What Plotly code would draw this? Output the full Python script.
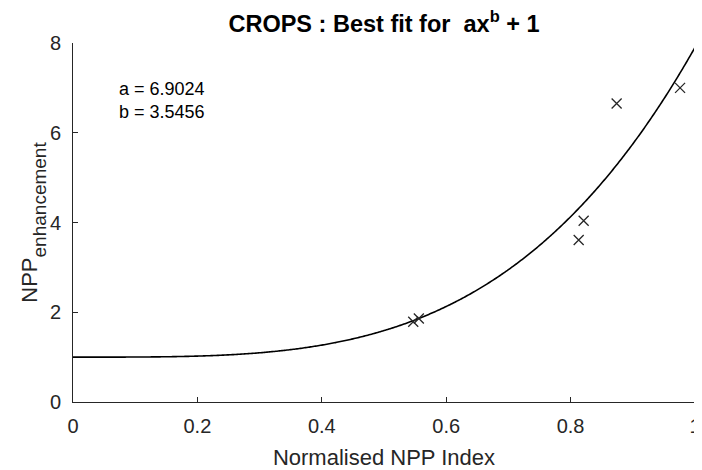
import numpy as np
import plotly.graph_objects as go

# Fit parameters (shown on chart)
a_fit = 6.9024
b_fit = 3.5456

x_pts = [0.547, 0.556, 0.813, 0.821, 0.874, 0.976]
y_pts = [1.79, 1.86, 3.61, 4.04, 6.65, 7.00]

# Tick labels
x_ticks = [0, 0.2, 0.4, 0.6, 0.8, 1]
y_ticks = [0, 2, 4, 6, 8]

# Fitted curve y = a x^b + 1 (drawn from the fit parameters above)
x_fit = np.linspace(0, 1, 501)
y_fit = a_fit * x_fit ** b_fit + 1

AX = "#262626"
FONT = "Liberation Sans, Arial, Helvetica, sans-serif"

# page body has an 8px margin, so the figure is sized to the visible area
W, H = 694, 462

fig = go.Figure()
fig.add_trace(go.Scatter(x=x_fit, y=y_fit, mode="lines",
                         line=dict(color="black", width=1.6, simplify=False),
                         showlegend=False, hoverinfo="skip"))
fig.add_trace(go.Scatter(x=x_pts, y=y_pts, mode="markers",
                         marker=dict(symbol="x-thin-open", size=10, color="#262626",
                                     line=dict(color="#262626", width=1.3)),
                         showlegend=False))

fig.add_annotation(x=0.0705, y=6.97, xref="x", yref="y",
                   text="a = 6.9024", showarrow=False, xanchor="left",
                   font=dict(family=FONT, size=18, color="black"))
fig.add_annotation(x=0.0705, y=6.47, xref="x", yref="y",
                   text="b = 3.5456", showarrow=False, xanchor="left",
                   font=dict(family=FONT, size=18, color="black"))

fig.update_layout(
    width=W, height=H,
    margin=dict(l=65, r=7, t=35, b=68, autoexpand=False),
    paper_bgcolor="white", plot_bgcolor="white",
    font=dict(family=FONT, color=AX),
    title=dict(text="<b>CROPS : Best fit for  ax<sup>b</sup> + 1</b>",
               x=0.5, xref="paper", xanchor="center",
               y=1 - 16 / H, yref="container", yanchor="middle",
               font=dict(family=FONT, size=23.5, color="black")),
)
fig.update_xaxes(range=[0, 1], tickvals=x_ticks,
                 ticktext=[("%g" % v) for v in x_ticks],
                 showline=True, linecolor=AX, linewidth=1,
                 ticks="inside", ticklen=5, tickcolor=AX,
                 showgrid=False, zeroline=False, mirror=False, automargin=False,
                 ticklabelstandoff=6, ticklabeloverflow="allow",
                 tickfont=dict(family=FONT, size=20, color=AX),
                 title=dict(text="Normalised NPP Index", standoff=13,
                            font=dict(family=FONT, size=22, color=AX)))
fig.update_yaxes(range=[0, 8], tickvals=y_ticks,
                 showline=True, linecolor=AX, linewidth=1,
                 ticks="inside", ticklen=5, tickcolor=AX,
                 showgrid=False, zeroline=False, mirror=False, automargin=False,
                 ticklabelstandoff=7,
                 tickfont=dict(family=FONT, size=20, color=AX),
                 title=dict(text="<span style='font-size:22px'>NPP</span><sub><sub>"
                                 "<span style='font-size:19px'>enhancement</span></sub></sub>",
                            standoff=0,
                            font=dict(family=FONT, size=26, color=AX)))

fig.write_html("out.html")
